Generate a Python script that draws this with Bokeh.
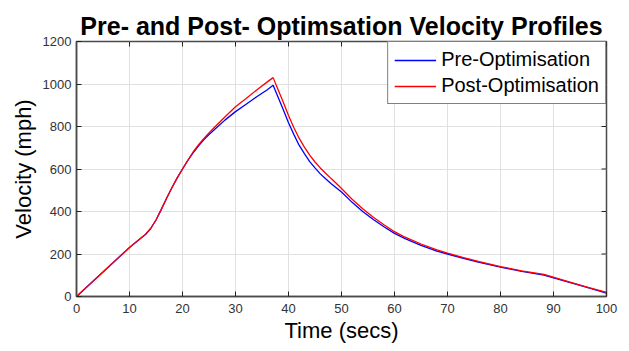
import math
from bokeh.plotting import figure
from bokeh.models import Range1d, FixedTicker, Legend, LegendItem
from bokeh.embed import file_html
from bokeh.resources import INLINE

# Data
time_s = [0, 5, 10, 12, 13, 14, 15, 16, 17, 18, 19, 20, 21, 22, 23, 24, 25, 26, 28, 30, 32, 34,
          36, 37.1, 38, 39, 40, 41, 42, 43, 44, 45, 46, 47, 48, 49, 50, 52, 54, 56, 58, 60, 62,
          65, 68, 70, 73, 76, 80, 84, 88.2, 92, 96, 100]
pre_opt = [0, 115, 231, 272, 292, 320, 360, 410, 462, 512, 558, 600, 640, 676, 708, 737, 762,
           785, 830, 870, 905, 940, 973, 994, 940, 880, 818, 763, 712, 672, 635, 605, 577, 554,
           532, 512, 492, 443, 400, 362, 328, 297, 272, 241, 214, 200, 180, 161, 138, 118, 101,
           73, 45, 16]
post_opt = [0, 115, 231, 272, 292, 320, 360, 410, 462, 512, 558, 600, 641, 680, 713, 743, 770,
            795, 845, 893, 932, 972, 1010, 1030, 975, 915, 852, 795, 745, 703, 665, 633, 605, 580,
            556, 533, 508, 458, 413, 373, 338, 305, 279, 247, 219, 204, 183, 164, 141, 121, 104,
            76, 47, 19]
x_ticks = [0, 10, 20, 30, 40, 50, 60, 70, 80, 90, 100]
y_ticks = [0, 200, 400, 600, 800, 1000, 1200]
x_min, x_max = 0, 100
y_min, y_max = 0, 1200

FONT = "Liberation Sans"
AX = "#4a4a4a"

p = figure(width=629, height=351, output_backend="svg", toolbar_location=None,
           x_range=Range1d(x_min, x_max), y_range=Range1d(y_min, y_max),
           min_border_left=76, min_border_right=23, min_border_top=41, min_border_bottom=55,
           title="Pre- and Post- Optimsation Velocity Profiles")
p.background_fill_color = "white"
p.border_fill_color = "white"
p.outline_line_color = AX
p.outline_line_width = 1.5

p.title.text_font = FONT
p.title.text_font_size = "25px"
p.title.text_font_style = "bold"
p.title.text_color = "black"
p.title.align = "center"
p.title.standoff = 3

p.xgrid.ticker = FixedTicker(ticks=x_ticks)
p.ygrid.ticker = FixedTicker(ticks=y_ticks)
p.grid.grid_line_color = "#e0e0e0"
p.grid.grid_line_width = 1

r1 = p.line(time_s, pre_opt, line_color="#0000ff", line_width=1.3)
r2 = p.line(time_s, post_opt, line_color="#ff0000", line_width=1.3)

# inward ticks on the right and top edges (box on)
p.ray(x=[x_max] * len(y_ticks), y=y_ticks, length=5, length_units="screen",
      angle=math.pi, line_color="#222222", line_width=1)
p.ray(x=x_ticks, y=[y_max] * len(x_ticks), length=5, length_units="screen",
      angle=-math.pi / 2, line_color="#222222", line_width=1)

for ax in (p.xaxis[0], p.yaxis[0]):
    ax.major_tick_in = 5
    ax.major_tick_out = 0
    ax.minor_tick_in = 0
    ax.minor_tick_out = 0
    ax.axis_line_color = AX
    ax.axis_line_width = 1.5
    ax.major_tick_line_color = "#222222"
    ax.major_label_text_font = FONT
    ax.major_label_text_font_size = "13px"
    ax.major_label_text_color = "#333333"
    ax.axis_label_text_font = FONT
    ax.axis_label_text_font_size = "22px"
    ax.axis_label_text_font_style = "normal"
    ax.axis_label_text_color = "black"

p.xaxis[0].ticker = FixedTicker(ticks=x_ticks)
p.yaxis[0].ticker = FixedTicker(ticks=y_ticks)
p.xaxis[0].axis_label = "Time (secs)"
p.yaxis[0].axis_label = "Velocity (mph)"
p.xaxis[0].major_label_standoff = 7
p.xaxis[0].axis_label_standoff = 2
p.yaxis[0].major_label_standoff = 5
p.yaxis[0].axis_label_standoff = 4

legend = Legend(items=[LegendItem(label="Pre-Optimisation", renderers=[r1]),
                       LegendItem(label="Post-Optimisation", renderers=[r2])],
                location="top_right")
legend.margin = 0
legend.padding = 6
legend.spacing = 3
legend.glyph_width = 42
legend.glyph_height = 20
legend.label_height = 20
legend.label_standoff = 5
legend.label_text_font = FONT
legend.label_text_font_size = "20px"
legend.label_text_color = "black"
legend.border_line_color = "black"
legend.border_line_width = 1
legend.background_fill_color = "white"
legend.background_fill_alpha = 1
p.add_layout(legend)

open("out.html", "w").write(file_html(p, INLINE))
